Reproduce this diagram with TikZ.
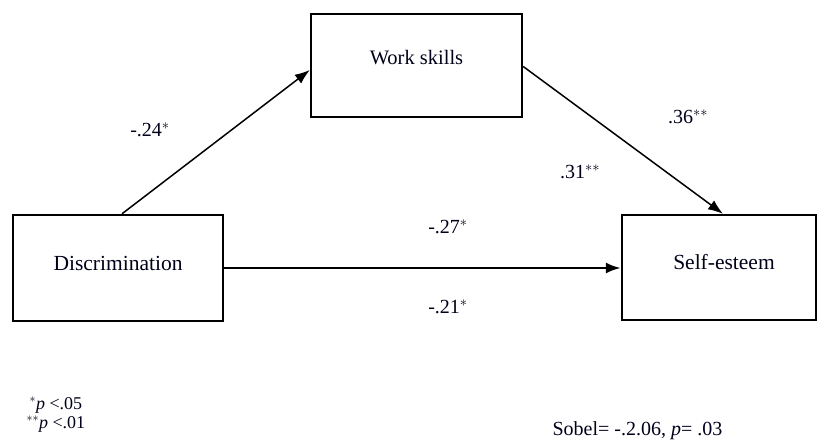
\documentclass[tikz,border=0pt]{standalone}
\usepackage{fontspec}
\setmainfont{Liberation Serif}
\usetikzlibrary{arrows.meta,calc}
\begin{document}
\begin{tikzpicture}[x=1pt,y=-1pt,
  box/.style={draw=black,line width=2.4pt,minimum width=#1,inner sep=0pt},
  conn/.style={line width=1.5pt,-{Latex[length=15pt,width=11pt]}},
  lbl/.style={font=\fontsize{20}{23}\selectfont,text=black!90!blue},
  boxtext/.style={font=\fontsize{21.5}{24}\selectfont,text=black!90!blue},
  note/.style={font=\fontsize{18}{20}\selectfont,text=black!90!blue,anchor=west}]
\useasboundingbox (0,0) rectangle (820,442);
\node[box=211pt,minimum height=103pt] (ws) at (416.5,65.5) {};
\node[box=210pt,minimum height=106pt] (disc) at (118,268) {};
\node[box=194pt,minimum height=105pt] (se) at (719,267.5) {};
\node[boxtext,font=\fontsize{20.5}{24}\selectfont] (wst) at (416.5,58) {Work skills};
\node[boxtext] (disct) at (118,263) {Discrimination};
\node[boxtext] (set) at (724,262) {Self-esteem};
\draw[conn] ([xshift=4pt]disc.north) -- ([yshift=-4.5pt]ws.west);
\draw[conn] ([yshift=-1pt]ws.east) -- ([xshift=4pt]se.north);
\draw[conn,line width=2.4pt] (disc.east) -- (disc.east -| se.west);
\node[lbl] (a) at (150,130) {-.24$^{*}$};
\node[lbl] (b) at (688,117) {.36$^{**}$};
\node[lbl] (c) at (580,172) {.31$^{**}$};
\node[lbl] (d) at (448,227) {-.27$^{*}$};
\node[lbl] (e) at (448,307) {-.21$^{*}$};
\node[note] (n1) at (26,405) {$^{*}$\textit{p} <.05};
\node[note] (n2) at (23,424) {$^{**}$\textit{p} <.01};
\node[note,font=\fontsize{20}{22}\selectfont] (sob) at (549,431) {Sobel= -.2.06, \textit{p}= .03};
\end{tikzpicture}
\end{document}
